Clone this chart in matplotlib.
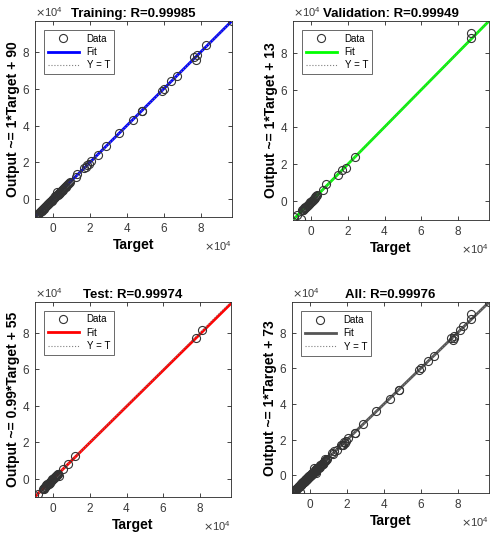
import matplotlib
matplotlib.use("Agg")
import matplotlib.pyplot as plt
from matplotlib.lines import Line2D
from matplotlib.ticker import ScalarFormatter

plt.rcParams['font.family'] = ['Liberation Sans', 'DejaVu Sans']

# ── data ─────────────────────────────────────────────────────────────────────
train_target = [-10000, -9700, -9400, -9100, -8800, -8500, -8200, -7900, -7600, -7300,
                -7000, -6700, -6400, -6100, -5800, -5500, -5200, -4900, -4600, -4300,
                -4000, -3700, -3400, -3100, -2800, -2500, -2200, -1900, -1600, -1300,
                -1000, -700, -400, -100, 200, 500, 800, 1100, 1400, 1700, 2000, 2300,
                2600, 2900, 3200, 3500, 3800, 4100, 4400, 4700, 5000, 5400, 5800, 6200,
                6600, 7000, 7500, 8000, 8600, 9200,
                12000, 13000, 16500, 17500, 18500, 19500, 20500, 24000, 28500, 35500,
                43000, 48000, 48200, 59000, 60000, 64000, 67000, 76500, 77500, 78000,
                83000, 97000]
train_output = [-9900, -9500, -9300, -9200, -8600, -8400, -8300, -7700, -7500, -7400,
                -6800, -6600, -6500, -5900, -5700, -5300, -5300, -4800, -4400, -4400,
                -3800, -3600, -3500, -2900, -2700, -2300, -2100, -1800, -1700, -1100,
                -900, -600, -200, 100, 300, 400, 900, 1300, 1300, 4000, 2100, 2200,
                2800, 2800, 3400, 3400, 3900, 4200, 4300, 4900, 4900, 5600, 5700, 6400,
                6500, 7200, 7400, 8200, 8500, 9400,
                11800, 13800, 16800, 17300, 18600, 19200, 20800, 23900, 28700, 36000,
                42800, 48100, 48000, 58800, 60100, 64200, 66800, 77200, 76000, 78400,
                83800, 97000]

val_target = [-9300, -7800, -5400, -5000, -4700, -4400, -4100, -3800, -3500, -3200,
              -2900, -2600, -2300, -2000, -1700, -1400, -1100, -800, -500, -200, 100,
              400, 700, 1000, 1300, 1600, 1900, 2200, 2500, 2800, 3100,
              6600, 8000, 14600, 17000, 18700, 24100, 87100, 87100]
val_output = [-8700, -7600, -9400, -4900, -4500, -4400, -4000, -3700, -3400, -3300,
              -2800, -2500, -2400, -1900, -1800, -1300, -1200, -700, -600, -100, 200,
              300, 800, 900, 1400, 1500, 2000, 2100, 2600, 2700, 3200,
              6300, 9400, 14400, 17100, 18000, 24000, 90300, 87600]

test_target = [-10400, -8300, -5600, -5300, -5000, -4700, -4400, -4100, -3800, -3500,
               -3200, -2900, -2600, -2300, -2000, -1700, -1400, -1100, -800, -500,
               -200, 100, 400, 700, 1000, 1300, 1600, 1900, 2200, 2500, 2800, 3100,
               5200, 7800, 11700, 77800, 81000]
test_output = [-8700, -8500, -5400, -5400, -4900, -4600, -4500, -4000, -3700, -3600,
               -3100, -2800, -2700, -2200, -2100, -1600, -1500, -1000, -900, -400,
               -300, 200, 300, 800, 900, 1400, 1500, 2000, 2100, 2600, 2700, 1400,
               5400, 7800, 12300, 76900, 81500]

titles = ["Training: R=0.99985", "Validation: R=0.99949", "Test: R=0.99974", "All: R=0.99976"]
fit_slope = [1.0, 1.0, 0.99, 1.0]
fit_offset = [90, 13, 55, 73]
ylabels = ["Output ~= 1*Target + 90", "Output ~= 1*Target + 13",
           "Output ~= 0.99*Target + 55", "Output ~= 1*Target + 73"]
fit_colors = ["#0000ff", "#00ff00", "#ff0000", "#555555"]

all_target = train_target + val_target + test_target
all_output = train_output + val_output + test_output
targets = [train_target, val_target, test_target, all_target]
outputs = [train_output, val_output, test_output, all_output]

# axes boxes in figure fractions (left, bottom, width, height)
positions = [
    (0.070, 0.597, 0.394, 0.364),
    (0.586, 0.592, 0.392, 0.369),
    (0.070, 0.078, 0.392, 0.362),
    (0.584, 0.085, 0.394, 0.354),
]

lims = (-10000, 97000)
tick_col = "#262626"

fig = plt.figure(figsize=(5.0, 5.39), dpi=100)

for i in range(4):
    ax = fig.add_axes(positions[i])
    ax.plot(lims, [fit_slope[i] * v + fit_offset[i] for v in lims],
            color=fit_colors[i], lw=2, zorder=2)
    ax.plot(lims, lims, color="0.5", lw=0.8, ls=":", zorder=3)
    ax.plot(targets[i], outputs[i], ls="none", marker="o", ms=5.8,
            mfc="none", mec="#333333", mew=0.8, zorder=4)
    ax.set_xlim(lims)
    ax.set_ylim(lims)
    ax.set_xticks([0, 20000, 40000, 60000, 80000])
    ax.set_yticks([0, 20000, 40000, 60000, 80000])
    for axis in (ax.xaxis, ax.yaxis):
        fmt = ScalarFormatter(useMathText=True)
        fmt.set_powerlimits((0, 0))
        axis.set_major_formatter(fmt)
        axis.get_offset_text().set_fontsize(8)
        axis.get_offset_text().set_color("#555555")
    ax.tick_params(direction="in", top=True, right=True, labelsize=8.5,
                   colors=tick_col, length=3, width=0.6, labelcolor="#3a3a3a")
    for s in ax.spines.values():
        s.set_linewidth(0.6)
        s.set_color(tick_col)
    ax.set_title(titles[i], fontsize=9.5, fontweight="bold", pad=3)
    ax.set_xlabel("Target", fontsize=10, fontweight="bold", labelpad=2)
    ax.set_ylabel(ylabels[i], fontsize=10, fontweight="bold", labelpad=1)

    handles = [
        Line2D([], [], ls="none", marker="o", ms=5.8, mfc="none", mec="#333333", mew=0.8),
        Line2D([], [], color=fit_colors[i], lw=2),
        Line2D([], [], color="0.5", lw=0.8, ls=":"),
    ]
    leg = ax.legend(handles, ["Data", "Fit", "Y = T"], loc="upper left",
                    fontsize=7, frameon=True, fancybox=False, borderaxespad=0.9,
                    handlelength=3.2, labelspacing=0.35, borderpad=0.4)
    leg.get_frame().set_edgecolor("#262626")
    leg.get_frame().set_linewidth(0.6)

fig.savefig("out.png", dpi=100)
